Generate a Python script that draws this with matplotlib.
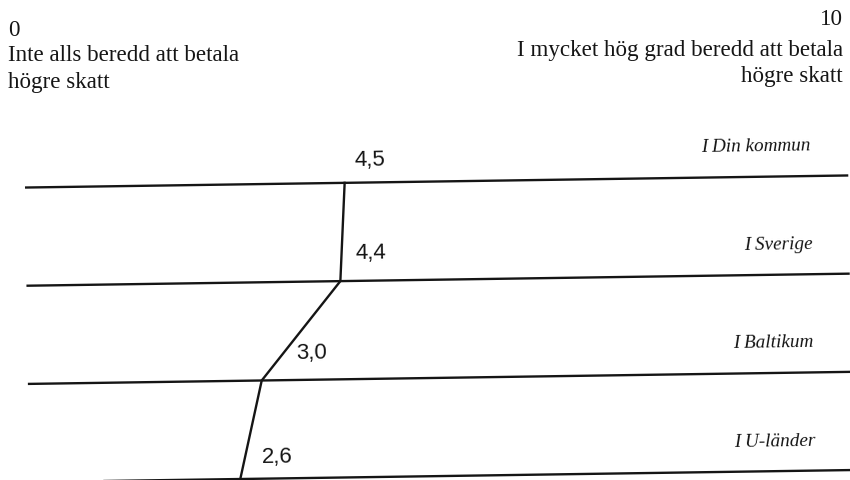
import matplotlib
matplotlib.use("Agg")
import matplotlib.pyplot as plt
import matplotlib.transforms as mtransforms

# ---- data ----
categories = ["I Din kommun", "I Sverige", "I Baltikum", "I U-länder"]
values = [4.5, 4.4, 3.0, 2.6]
value_labels = ["4,5", "4,4", "3,0", "2,6"]
scale_min_label = "0"
scale_max_label = "10"
left_caption = ["Inte alls beredd att betala", "högre skatt"]
right_caption = ["I mycket hög grad beredd att betala", "högre skatt"]

# ---- layout / style ----
W, H = 850, 480
INK = "#151515"
SERIF = ["Liberation Serif", "DejaVu Serif"]
SANS = ["Liberation Sans", "DejaVu Sans"]
TILT = 0.84  # scanned page tilt in degrees

fig = plt.figure(figsize=(W / 100, H / 100), dpi=100)
fig.patch.set_facecolor("white")
ax = fig.add_axes([27 / W, 0, (848 - 27) / W, 1])
ax.axis("off")

rot = mtransforms.Affine2D().rotate_deg_around(437, 240, TILT)
td = ax.transData + rot
blend = mtransforms.blended_transform_factory(ax.transAxes, ax.transData) + rot

pos = list(range(len(categories)))

# horizontal scale lines
for i in pos:
    ln = ax.axhline(i, color=INK, lw=1.7)
    ln.set_transform(ln.get_transform() + rot)
    ln.set_clip_on(False)

# profile line
ax.plot(values, pos, color=INK, lw=1.7, transform=td, clip_on=False,
        solid_joinstyle="miter")

# value labels
label_dx = [25, 30, 50, 37]
label_dy = [23, 28, 27, 22]
for v, i, lab, dx, dy in zip(values, pos, value_labels, label_dx, label_dy):
    ax.annotate(lab, xy=(v, i), xycoords=td, xytext=(dx, dy),
                textcoords="offset pixels", ha="center", va="center",
                fontsize=16, family=SANS, color=INK, rotation=TILT,
                annotation_clip=False)

# category labels
for i, cat in zip(pos, categories):
    ax.annotate(cat, xy=(0.956, i), xycoords=blend, xytext=(0, 29),
                textcoords="offset pixels", ha="right", va="center",
                fontsize=13.8, family=SERIF, style="italic", color=INK,
                rotation=TILT, annotation_clip=False)

ax.set_xlim(-1.068, 13.285)
# category rows at image y = 181.5 + 98.2*i
ax.set_ylim((480 - 181.5) / 98.2, -181.5 / 98.2)

# header captions
fs = 16.6
fig.text(8 / W, 1 - 36 / H, scale_min_label, ha="left", va="baseline",
         fontsize=fs, family=SERIF, color=INK)
for k, line in enumerate(left_caption):
    fig.text(8 / W, 1 - (61 + 27 * k) / H, line, ha="left", va="baseline",
             fontsize=fs, family=SERIF, color=INK)
fig.text(843 / W, 1 - 25 / H, scale_max_label, ha="right", va="baseline",
         fontsize=fs, family=SERIF, color=INK)
for k, line in enumerate(right_caption):
    fig.text(843 / W, 1 - (56 + 26 * k) / H, line, ha="right", va="baseline",
             fontsize=fs, family=SERIF, color=INK)

fig.savefig("out.png", dpi=100, facecolor="white")
